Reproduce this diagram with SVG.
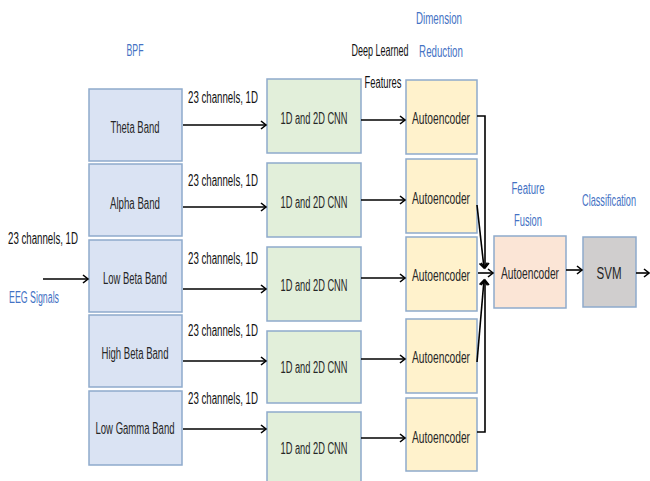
<svg xmlns="http://www.w3.org/2000/svg" width="650" height="481" viewBox="0 0 650 481">
<defs>
<marker id="ah" markerWidth="8" markerHeight="10" refX="6" refY="5" orient="auto" markerUnits="userSpaceOnUse">
<path d="M1,1 L6,5 L1,9" fill="none" stroke="#000" stroke-width="1.6"/>
</marker>
<style>
text{font-family:"Liberation Sans Narrow","Liberation Sans",Arial,sans-serif;text-anchor:middle;}
.t{font-size:16px;fill:#262626;}
.lb{font-size:16px;fill:#111;}
.bl{font-size:16px;fill:#4472c4;}
.box{stroke:#8eaacc;stroke-width:1.5;}
.bpf{fill:#dae3f3;}
.cnn{fill:#e2efda;}
.ae{fill:#fff2cc;}
.fu{fill:#fbe5d6;}
.svm{fill:#d0cece;}
.c{fill:none;stroke:#000;stroke-width:1.6;}
</style>
</defs>
<rect width="650" height="481" fill="#fff"/>

<g id="labels">
<text class="bl" x="135" y="56" textLength="17" lengthAdjust="spacingAndGlyphs">BPF</text>
<text class="bl" x="439" y="24" textLength="46" lengthAdjust="spacingAndGlyphs">Dimension</text>
<text class="bl" transform="translate(441,57) scale(0.6,1)" x="0" y="0" textLength="73" lengthAdjust="spacingAndGlyphs">Reduction</text>
<text class="lb" transform="translate(380,56) scale(0.6,1)" x="0" y="0" textLength="95" lengthAdjust="spacingAndGlyphs">Deep Learned</text>
<text class="lb" x="383" y="88" textLength="37" lengthAdjust="spacingAndGlyphs">Features</text>
<text class="bl" x="528" y="194" textLength="33" lengthAdjust="spacingAndGlyphs">Feature</text>
<text class="bl" x="528" y="226" textLength="28" lengthAdjust="spacingAndGlyphs">Fusion</text>
<text class="bl" transform="translate(609,206) scale(0.6,1)" x="0" y="0" textLength="90" lengthAdjust="spacingAndGlyphs">Classification</text>
<text class="lb" x="43" y="244" textLength="70" lengthAdjust="spacingAndGlyphs">23 channels, 1D</text>
<text class="bl" x="34" y="303" textLength="50" lengthAdjust="spacingAndGlyphs">EEG Signals</text>
<text class="lb" x="223" y="103" textLength="70" lengthAdjust="spacingAndGlyphs">23 channels, 1D</text>
<text class="lb" x="223" y="186" textLength="70" lengthAdjust="spacingAndGlyphs">23 channels, 1D</text>
<text class="lb" x="223" y="264" textLength="70" lengthAdjust="spacingAndGlyphs">23 channels, 1D</text>
<text class="lb" x="223" y="336" textLength="70" lengthAdjust="spacingAndGlyphs">23 channels, 1D</text>
<text class="lb" x="223" y="404" textLength="70" lengthAdjust="spacingAndGlyphs">23 channels, 1D</text>
</g>

<g id="bpf-theta"><rect class="box bpf" x="89" y="89" width="93" height="72"/><text class="t" x="135" y="133" textLength="49" lengthAdjust="spacingAndGlyphs">Theta Band</text></g>
<g id="bpf-alpha"><rect class="box bpf" x="89" y="164" width="93" height="72"/><text class="t" x="135" y="209" textLength="50" lengthAdjust="spacingAndGlyphs">Alpha Band</text></g>
<g id="bpf-lowbeta"><rect class="box bpf" x="89" y="240" width="93" height="72"/><text class="t" x="135" y="284" textLength="64" lengthAdjust="spacingAndGlyphs">Low Beta Band</text></g>
<g id="bpf-highbeta"><rect class="box bpf" x="89" y="315" width="93" height="72"/><text class="t" x="135" y="359" textLength="67" lengthAdjust="spacingAndGlyphs">High Beta Band</text></g>
<g id="bpf-lowgamma"><rect class="box bpf" x="89" y="391" width="93" height="74"/><text class="t" x="135" y="434" textLength="79" lengthAdjust="spacingAndGlyphs">Low Gamma Band</text></g>

<g id="cnn-1"><rect class="box cnn" x="267" y="79" width="94" height="74"/><text class="t" x="314" y="124" textLength="67" lengthAdjust="spacingAndGlyphs">1D and 2D CNN</text></g>
<g id="cnn-2"><rect class="box cnn" x="267" y="163" width="94" height="74"/><text class="t" x="314" y="208" textLength="67" lengthAdjust="spacingAndGlyphs">1D and 2D CNN</text></g>
<g id="cnn-3"><rect class="box cnn" x="267" y="247" width="94" height="74"/><text class="t" x="314" y="291" textLength="67" lengthAdjust="spacingAndGlyphs">1D and 2D CNN</text></g>
<g id="cnn-4"><rect class="box cnn" x="267" y="331" width="94" height="72"/><text class="t" x="314" y="373" textLength="67" lengthAdjust="spacingAndGlyphs">1D and 2D CNN</text></g>
<g id="cnn-5"><rect class="box cnn" x="267" y="412" width="94" height="76"/><text class="t" x="314" y="454" textLength="67" lengthAdjust="spacingAndGlyphs">1D and 2D CNN</text></g>

<g id="ae-1"><rect class="box ae" x="406" y="80" width="71" height="74"/><text class="t" x="441" y="124" textLength="58" lengthAdjust="spacingAndGlyphs">Autoencoder</text></g>
<g id="ae-2"><rect class="box ae" x="406" y="159" width="71" height="74"/><text class="t" x="441" y="204" textLength="58" lengthAdjust="spacingAndGlyphs">Autoencoder</text></g>
<g id="ae-3"><rect class="box ae" x="406" y="237" width="71" height="74"/><text class="t" x="441" y="281" textLength="58" lengthAdjust="spacingAndGlyphs">Autoencoder</text></g>
<g id="ae-4"><rect class="box ae" x="406" y="319" width="71" height="74"/><text class="t" x="441" y="363" textLength="58" lengthAdjust="spacingAndGlyphs">Autoencoder</text></g>
<g id="ae-5"><rect class="box ae" x="406" y="398" width="71" height="73"/><text class="t" x="441" y="443" textLength="58" lengthAdjust="spacingAndGlyphs">Autoencoder</text></g>

<g id="fusion"><rect class="box fu" x="494" y="236" width="72" height="72"/><text class="t" x="530" y="279" textLength="58" lengthAdjust="spacingAndGlyphs">Autoencoder</text></g>
<g id="svm"><rect class="box svm" x="583" y="237" width="53" height="70"/><text class="t" x="609" y="279" textLength="25" lengthAdjust="spacingAndGlyphs">SVM</text></g>

<g id="connectors">
<line class="c" x1="43" y1="279" x2="88" y2="279" marker-end="url(#ah)"/>
<line class="c" x1="183" y1="125" x2="266" y2="125" marker-end="url(#ah)"/>
<line class="c" x1="183" y1="207" x2="266" y2="207" marker-end="url(#ah)"/>
<line class="c" x1="183" y1="289" x2="266" y2="289" marker-end="url(#ah)"/>
<line class="c" x1="183" y1="361" x2="266" y2="361" marker-end="url(#ah)"/>
<line class="c" x1="183" y1="429" x2="266" y2="429" marker-end="url(#ah)"/>
<line class="c" x1="361" y1="120" x2="405" y2="120" marker-end="url(#ah)"/>
<line class="c" x1="361" y1="200" x2="405" y2="200" marker-end="url(#ah)"/>
<line class="c" x1="361" y1="278" x2="405" y2="278" marker-end="url(#ah)"/>
<line class="c" x1="361" y1="359" x2="405" y2="359" marker-end="url(#ah)"/>
<line class="c" x1="361" y1="438" x2="405" y2="438" marker-end="url(#ah)"/>
<polyline class="c" points="477,116 485,116 485,268" marker-end="url(#ah)"/>
<polyline class="c" points="477,432 485,432 485,280" marker-end="url(#ah)"/>
<line class="c" x1="477" y1="205" x2="484" y2="268" marker-end="url(#ah)"/>
<line class="c" x1="477" y1="362" x2="484" y2="280" marker-end="url(#ah)"/>
<line class="c" x1="478" y1="273" x2="493" y2="273" marker-end="url(#ah)"/>
<line class="c" x1="566" y1="270" x2="582" y2="270" marker-end="url(#ah)"/>
<line class="c" x1="636" y1="273" x2="649" y2="273" marker-end="url(#ah)"/>
</g>
</svg>
